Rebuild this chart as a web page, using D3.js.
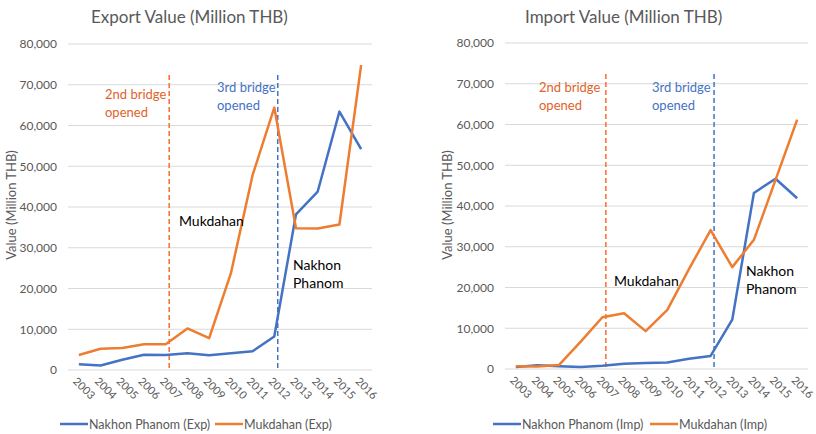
<!DOCTYPE html>
<html><head><meta charset="utf-8">
<script src="https://cdn.jsdelivr.net/npm/d3@7"></script>
<style>body{margin:0;background:#fff;} svg{display:block;font-family:Lato,"Open Sans",sans-serif;}</style>
</head><body>
<svg id="c" width="816" height="434"></svg>
<script>
const years = [2003,2004,2005,2006,2007,2008,2009,2010,2011,2012,2013,2014,2015,2016];
const yTicks = [0,10000,20000,30000,40000,50000,60000,70000,80000];
const bridgeYears = [2007, 2012];
const bridgeLabels = [["2nd bridge","opened"],["3rd bridge","opened"]];

const nakhonExp = [1400,1100,2500,3750,3700,4100,3600,4100,4600,8200,38200,43800,63400,54200];
const mukdahanExp = [3700,5200,5400,6300,6300,10200,7800,23700,47800,64400,34800,34700,35700,74800];
const nakhonImp = [500,900,700,500,800,1300,1500,1600,2500,3200,12100,43200,46700,41900];
const mukdahanImp = [700,600,1000,6700,12700,13700,9300,14500,24500,34100,25000,31700,46400,61200];

const BLUE = "#4472C4", ORANGE = "#ED7D31", GRAY = "#595959";
const svg = d3.select("#c");

function panel(cfg){
  const g = svg.append("g");
  const x = d3.scalePoint().domain(years).range([cfg.x0, cfg.x1]).padding(0.5);
  const y = d3.scaleLinear().domain([0,80000]).range([cfg.yb, cfg.yt]);
  g.append("g").selectAll("line").data(yTicks).join("line")
    .attr("x1", cfg.x0).attr("x2", cfg.x1)
    .attr("y1", d=>y(d)).attr("y2", d=>y(d))
    .attr("stroke","#D9D9D9").attr("stroke-width",1);
  const ya = g.append("g").attr("transform",`translate(${cfg.x0-11},0)`)
    .call(d3.axisLeft(y).tickValues(yTicks).tickFormat(d3.format(",")).tickSize(0).tickPadding(0));
  ya.select(".domain").remove();
  ya.selectAll("text").attr("fill",GRAY).attr("font-size",12).attr("font-family","Lato");
  const xa = g.append("g").attr("transform",`translate(0,${cfg.yb})`)
    .call(d3.axisBottom(x).tickSize(0).tickPadding(0));
  xa.select(".domain").remove();
  xa.selectAll("text").attr("fill",GRAY).attr("font-size",11).attr("font-family","Lato")
    .attr("text-anchor","start").attr("dy",0)
    .attr("transform","translate(-7,12) rotate(45)");
  g.append("text").attr("x",cfg.tx).attr("y",23).attr("font-size",17).attr("fill",GRAY).text(cfg.title);
  g.append("text").attr("transform",`translate(${cfg.ytx},${cfg.yty}) rotate(-90)`)
    .attr("text-anchor","middle").attr("font-size",13).attr("fill",GRAY).text("Value (Million THB)");
  const off = x.step()*0.16;
  const bcol = ["#FF6A30", BLUE];
  const tcol = ["#E0622A", BLUE];
  bridgeYears.forEach((by,i)=>{
    g.append("line").attr("x1",x(by)+off).attr("x2",x(by)+off)
      .attr("y1",cfg.yt+31).attr("y2",cfg.yb).attr("stroke",bcol[i]).attr("stroke-width",1.5)
      .attr("stroke-dasharray","5,3");
    const t = g.append("text").attr("x",cfg.bl[i]).attr("y",cfg.bly[i]).attr("font-size",13).attr("fill",tcol[i]);
    bridgeLabels[i].forEach((s,j)=>t.append("tspan").attr("x",cfg.bl[i]).attr("dy",j?17.5:0).text(s));
  });
  const line = d3.line().x((d,i)=>x(years[i])).y(d=>y(d));
  g.append("path").datum(cfg.s1).attr("d",line).attr("fill","none").attr("stroke",BLUE).attr("stroke-width",2.5).attr("stroke-linejoin","round");
  g.append("path").datum(cfg.s2).attr("d",line).attr("fill","none").attr("stroke",ORANGE).attr("stroke-width",2.5).attr("stroke-linejoin","round");
  g.append("text").attr("x",cfg.mx).attr("y",cfg.my).attr("font-size",14).attr("fill","#000").text("Mukdahan");
  const nt = g.append("text").attr("x",cfg.nx).attr("y",cfg.ny).attr("font-size",14).attr("fill","#000");
  nt.append("tspan").attr("x",cfg.nx).text("Nakhon");
  nt.append("tspan").attr("x",cfg.nx).attr("dy",18).text("Phanom");
  const leg = [[cfg.l1,BLUE,cfg.n1],[cfg.l2,ORANGE,cfg.n2]];
  leg.forEach(([lx,c,n])=>{
    g.append("line").attr("x1",lx).attr("x2",lx+28).attr("y1",424).attr("y2",424).attr("stroke",c).attr("stroke-width",2.5);
    g.append("text").attr("x",lx+29).attr("y",428.5).attr("font-size",12.5).attr("fill",GRAY).text(n);
  });
}

panel({x0:68,x1:372,yb:370,yt:44,tx:91,title:"Export Value (Million THB)",ytx:16,yty:205,
  bl:[105,217],bly:[99,92],mx:179,my:226,nx:293,ny:270,
  s1:nakhonExp,s2:mukdahanExp,l1:60,l2:215,n1:"Nakhon Phanom (Exp)",n2:"Mukdahan (Exp)"});
panel({x0:505,x1:808,yb:369,yt:43,tx:525,title:"Import Value (Million THB)",ytx:452,yty:205,
  bl:[539,652],bly:[92,92],mx:614,my:286,nx:746,ny:276,
  s1:nakhonImp,s2:mukdahanImp,l1:493,l2:650,n1:"Nakhon Phanom (Imp)",n2:"Mukdahan (Imp)"});
</script>
</body></html>
